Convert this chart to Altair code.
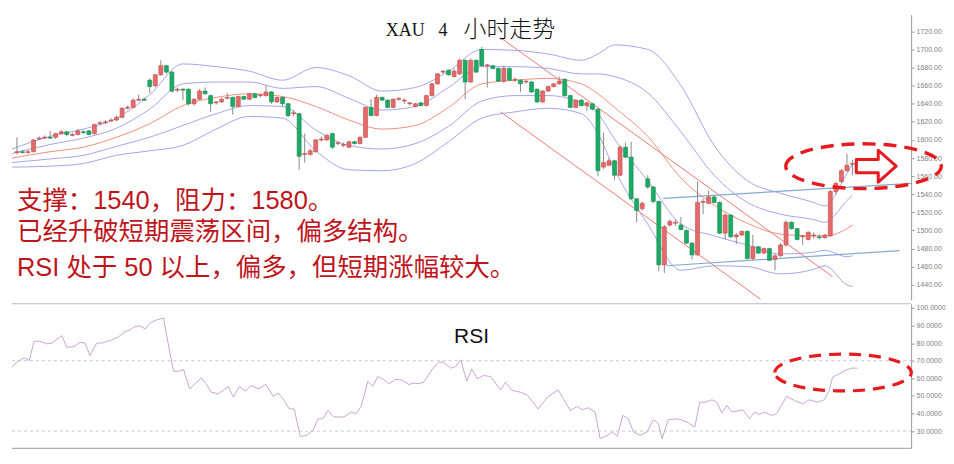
import altair as alt
import pandas as pd

# ---------------- data ----------------
opens = [1586,1587,1586,1587,1601,1602,1603,1603,1607,1609,
         1605,1606,1609,1610,1607,1618,1619,1621,1622,1625,
         1635,1636,1644,1645,1666,1660,1672,1682,1675,1655,
         1656,1656,1640,1645,1654,1649,1641,1642,1646,1647,
         1637,1648,1645,1651,1649,1649,1653,1642,1647,1640,
         1629,1629,1584,1584,1587,1600,1600,1607,1596,1594,
         1592,1598,1596,1603,1636,1627,1647,1644,1636,1645,
         1643,1640,1637,1641,1638,1649,1662,1675,1677,1670,
         1673,1688,1664,1688,1700,1682,1682,1679,1665,1679,
         1666,1666,1664,1664,1656,1642,1654,1659,1662,1667,
         1649,1636,1644,1638,1640,1634,1570,1572,1577,1561,
         1592,1581,1535,1524,1557,1548,1532,1462,1506,1508,
         1506,1500,1486,1473,1531,1530,1537,1531,1497,1517,
         1493,1495,1499,1469,1482,1475,1480,1468,1472,1484,
         1509,1502,1493,1490,1494,1493,1492,1494,1543,1554,
         1566,1573]
closes = [1587,1586,1587,1600,1602,1603,1602,1607,1609,1606,
          1606,1610,1608,1606,1617,1619,1620,1622,1625,1635,
          1636,1644,1645,1644,1659,1672,1682,1675,1654,1656,
          1655,1640,1645,1654,1651,1640,1642,1645,1647,1637,
          1648,1645,1651,1647,1650,1653,1642,1647,1640,1627,
          1630,1582,1585,1588,1600,1601,1605,1592,1597,1595,
          1598,1596,1603,1636,1627,1647,1644,1636,1645,1646,
          1644,1641,1640,1638,1649,1662,1673,1676,1672,1676,
          1688,1664,1688,1675,1682,1683,1679,1665,1679,1666,
          1667,1662,1665,1653,1642,1654,1659,1662,1665,1649,
          1636,1644,1638,1641,1634,1566,1575,1577,1561,1592,
          1581,1535,1522,1530,1548,1532,1462,1504,1510,1509,
          1501,1486,1473,1531,1532,1537,1531,1497,1517,1493,
          1495,1499,1469,1482,1475,1480,1467,1472,1484,1509,
          1502,1490,1494,1498,1495,1492,1495,1543,1552,1566,
          1572,1574]
highs = [1603,1589,1589,1601,1604,1605,1610,1608,1611,1610,
         1608,1612,1611,1611,1618,1621,1622,1624,1627,1636,
         1638,1646,1650,1647,1668,1673,1688,1683,1676,1658,
         1657,1657,1646,1656,1658,1650,1643,1647,1652,1648,
         1649,1649,1652,1652,1651,1660,1654,1648,1648,1641,
         1633,1630,1607,1590,1601,1604,1607,1608,1598,1597,
         1599,1599,1604,1637,1645,1650,1648,1645,1646,1647,
         1646,1642,1641,1642,1650,1663,1674,1677,1678,1679,
         1690,1689,1690,1689,1703,1684,1683,1680,1682,1680,
         1669,1667,1666,1665,1657,1655,1660,1663,1670,1668,
         1650,1645,1645,1642,1641,1635,1608,1580,1578,1594,
         1597,1598,1536,1532,1561,1549,1533,1506,1512,1512,
         1515,1501,1487,1554,1535,1544,1539,1532,1519,1518,
         1497,1500,1500,1495,1483,1481,1481,1474,1486,1511,
         1510,1503,1495,1499,1498,1496,1496,1545,1554,1568,
         1585,1578]
lows = [1584,1585,1585,1586,1600,1601,1601,1601,1606,1604,
        1604,1605,1607,1605,1606,1617,1618,1620,1621,1624,
        1634,1635,1643,1643,1652,1658,1671,1673,1652,1653,
        1644,1638,1638,1644,1650,1631,1639,1641,1645,1628,
        1636,1644,1644,1646,1647,1648,1640,1641,1637,1625,
        1626,1567,1575,1583,1586,1598,1599,1590,1594,1592,
        1591,1595,1595,1602,1626,1626,1643,1635,1635,1643,
        1640,1638,1636,1637,1637,1648,1661,1673,1671,1669,
        1672,1645,1663,1674,1681,1658,1678,1664,1663,1665,
        1664,1653,1662,1652,1641,1641,1653,1658,1661,1648,
        1635,1635,1637,1632,1633,1560,1568,1571,1556,1560,
        1580,1534,1509,1522,1546,1530,1455,1453,1504,1505,
        1500,1485,1468,1472,1518,1529,1530,1496,1490,1492,
        1485,1494,1468,1467,1474,1474,1466,1456,1471,1482,
        1501,1489,1484,1489,1491,1490,1491,1493,1540,1552,
        1565,1561]

# Bollinger-style bands, sampled along the candle index
bb_pos = [-0.9, 6, 12, 18, 24, 30, 36, 42, 48, 54, 60, 66, 72, 78, 84, 90, 96,
          102, 105, 108, 114, 120, 126, 132, 138, 144, 146, 150, 151]
bb_upper2 = [1590, 1604, 1612, 1624, 1650, 1684, 1681, 1676, 1666, 1680, 1671, 1654, 1658, 1676,
             1700, 1699, 1695, 1688, 1695, 1705, 1700, 1660, 1594, 1555, 1541, 1531, 1527, 1563, 1573]
bb_upper1 = [1585, 1595, 1602, 1613, 1634, 1662, 1664, 1664, 1657, 1659, 1646, 1633, 1637, 1658,
             1681, 1681, 1679, 1673, 1673, 1670, 1652, 1609, 1561, 1531, 1518, 1512, 1509, 1533, 1539]
bb_mid = [1580, 1587, 1592, 1603, 1618, 1638, 1647, 1651, 1648, 1637, 1622, 1612, 1616, 1636,
          1662, 1666, 1668, 1662, 1651, 1636, 1604, 1558, 1528, 1508, 1496, 1494, 1494, 1502, 1506]
bb_lower1 = [1575, 1579, 1583, 1593, 1603, 1616, 1629, 1638, 1637, 1611, 1594, 1590, 1596, 1615,
             1643, 1649, 1649, 1641, 1629, 1601, 1555, 1507, 1494, 1484, 1474, 1476, 1478, 1471, 1472]
bb_lower2 = [1570, 1571, 1574, 1583, 1588, 1594, 1612, 1626, 1624, 1588, 1567, 1566, 1574, 1598,
             1624, 1631, 1635, 1629, 1607, 1567, 1507, 1456, 1461, 1460, 1452, 1457, 1461, 1440, 1438]

# trend lines (candle index, price)
red_x0 = [87.4, 87.4]
red_y0 = [1713, 1631]
red_x1 = [147.4, 134.4]
red_y1 = [1449, 1424]
blue_x0 = [116.8, 117.4]
blue_y0 = [1535.4, 1461]
blue_x1 = [161.6, 159.5]
blue_y1 = [1552, 1477.7]

# RSI
rsi_pos = [-0.9, 0, 0.9, 1.4, 2.2, 3.1, 4.1, 5.4, 6.3, 8.1, 9, 10.3, 11.4, 12.3, 13.2, 14.4, 15.3,
           17.1, 18.4, 19.5, 20.4, 21.3, 22.2, 23.2, 24, 25.2, 26.5, 27, 28.3, 29.2, 30.1, 31.2,
           32.3, 33.3, 34.2, 35.1, 36.4, 38.2, 39.1, 40.2, 41.3, 42.3, 43.6, 45, 46.3, 47.2, 48.1,
           49.2, 50.1, 51.2, 52.3, 53.5, 54.4, 55.3, 56.2, 57.3, 59.1, 60.4, 61.3, 62.2, 63.4,
           64.3, 65.2, 66.1, 67.2, 68.5, 69.7, 70.8, 71.7, 72.6, 73.5, 75.1, 76.2, 77.1, 78.4,
           79.3, 80.2, 81.3, 82.2, 83.2, 84.3, 85.6, 87.4, 88.3, 89.5, 91, 92.3, 94.2, 95.9, 97.8,
           100, 101.3, 102.2, 103.2, 104.5, 105.4, 106.7, 107.6, 108.5, 109.5, 110.5, 111.4,
           112.6, 113.9, 115, 115.9, 116.6, 117.7, 119.5, 121.1, 122.5, 123.4, 124.3, 125.6,
           126.5, 127.4, 128.3, 129.2, 131.2, 132.4, 133.3, 134.2, 135.1, 136.4, 137.3, 139.1,
           140.5, 142, 143.2, 144.7, 145.9, 146.8, 147.4, 148.6, 149.9, 151, 151.9]
rsi_val = [66.3, 69.2, 71, 71.6, 70.1, 81.1, 81.1, 79.6, 80, 84.3, 77.7, 78, 80.5, 80, 73, 80, 80,
           81.8, 83.7, 86.5, 87.5, 89.4, 89.8, 88.1, 91.3, 93.2, 94.3, 85.2, 64, 64, 65, 54,
           57.2, 60.2, 56.9, 52.1, 51.2, 55.3, 49.3, 55.3, 52.7, 55.9, 54, 56.5, 49.7, 51.6, 48.3,
           42.6, 42.6, 26.9, 27.5, 30.4, 37, 37, 41.7, 38, 38, 40.8, 39.9, 44, 58.2,
           55.4, 61, 59.7, 56.9, 59.5, 58.8, 56.5, 57.3, 56.9, 57.8, 65.3, 69.2, 69.2, 65.8,
           66.7, 70.5, 58.4, 65.3, 59.7, 61.6, 61, 53.5, 57.8, 53.1, 52.1, 50.3, 42.6, 49.3, 53.5,
           41.7, 44, 42.1, 43.3, 40.8, 25.7, 27.6, 29.5, 27, 38.9, 37, 29.5,
           27.6, 29.5, 36.5, 34.5, 25.7, 36.5, 37, 35.1, 32.3, 46.4, 46.4, 47.8,
           46.4, 40.2, 44.6, 40.8, 42.1, 37, 40.8, 39.5, 40.8, 38.9, 39.9, 49.7,
           47.4, 45.5, 47.8, 46.4, 47.8, 53.1, 60.6, 62.5, 64.8, 65.8, 65.8]
rsi_levels = [70, 30]

price_ticks = list(range(1440, 1721, 20))
rsi_ticks = list(range(30, 101, 10))

# annotations
title_parts = ["XAU", "4", "小时走势"]
notes = ["支撑：1540，阻力：1580。",
         "已经升破短期震荡区间，偏多结构。",
         "RSI 处于 50 以上，偏多，但短期涨幅较大。"]
ellipse_main = {"i": [153.0], "p": [1571]}
arrow_main = {"i": [155.3], "p": [1571]}
ellipse_rsi = {"i": [149.3], "r": [63.3]}

# ---------------- layout / style ----------------
W = 902
H_MAIN = 286
H_RSI = 145
X_DOMAIN = [-0.9, 161.6]
P_DOMAIN = [1423.4, 1738.4]
R_DOMAIN = [20.2, 102.4]

RED_UP = "#e46a6b"
GREEN_DN = "#1cab65"
BAND_BLUE = "#a3a6ee"
BAND_RED = "#f0907f"
ANN_RED = "#e8191f"
TXT_RED = "#c0141c"

ELLIPSE_MAIN = ("M -1 0 C -1 -0.159 -0.552 -0.288 0 -0.288 C 0.552 -0.288 1 -0.159 1 0 "
                "C 1 0.159 0.552 0.288 0 0.288 C -0.552 0.288 -1 0.159 -1 0 Z")
ELLIPSE_RSI = ("M -1 0 C -1 -0.149 -0.552 -0.27 0 -0.27 C 0.552 -0.27 1 -0.149 1 0 "
               "C 1 0.149 0.552 0.27 0 0.27 C -0.552 0.27 -1 0.149 -1 0 Z")
ARROW = "M -1 -0.33 L 0.1 -0.33 L 0.1 -0.8 L 1 0 L 0.1 0.8 L 0.1 0.33 L -1 0.33 Z"

xs = alt.Scale(domain=X_DOMAIN, nice=False, zero=False, padding=0)
ps = alt.Scale(domain=P_DOMAIN, nice=False, zero=False, padding=0)
rs = alt.Scale(domain=R_DOMAIN, nice=False, zero=False, padding=0)

price_axis = alt.Axis(orient="right", values=price_ticks, format=".2f", labelFontSize=7,
                      labelColor="#808080", labelFont="Liberation Sans", tickColor="#999999",
                      tickSize=3, domainColor="#999999", labelPadding=2, grid=False, title=None)
rsi_axis = alt.Axis(orient="right", values=rsi_ticks, format=".4f", labelFontSize=7,
                    labelColor="#808080", labelFont="Liberation Sans", tickColor="#999999",
                    tickSize=3, domainColor="#999999", labelPadding=2, grid=False, title=None)


def X(f):
    return alt.X(f, type="quantitative", scale=xs, axis=None)


def PY(f):
    return alt.Y(f, type="quantitative", scale=ps, axis=price_axis)


def RY(f):
    return alt.Y(f, type="quantitative", scale=rs, axis=rsi_axis)


candles = pd.DataFrame({"i": list(range(len(opens))), "open": opens, "close": closes,
                        "high": highs, "low": lows})
candles["dir"] = ["up" if c >= o else "down" for o, c in zip(opens, closes)]

band_rows = []
for name, vals in [("u2", bb_upper2), ("u1", bb_upper1), ("l1", bb_lower1), ("l2", bb_lower2)]:
    for p, v in zip(bb_pos, vals):
        band_rows.append({"pos": p, "val": v, "line": name})
bands = pd.DataFrame(band_rows)
mid_df = pd.DataFrame({"pos": bb_pos, "val": bb_mid})

red_lines = pd.DataFrame({"x0": red_x0, "y0": red_y0, "x1": red_x1, "y1": red_y1})
blue_lines = pd.DataFrame({"x0": blue_x0, "y0": blue_y0, "x1": blue_x1, "y1": blue_y1})
rsi_df = pd.DataFrame({"pos": rsi_pos, "rsi": rsi_val})
lvl_df = pd.DataFrame({"lvl": rsi_levels})
one = pd.DataFrame({"a": [0]})

band_layer = alt.Chart(bands).mark_line(interpolate="monotone", strokeWidth=1,
                                        color=BAND_BLUE).encode(
    x=X("pos"), y=PY("val"), detail="line:N")
mid_layer = alt.Chart(mid_df).mark_line(interpolate="monotone", strokeWidth=1,
                                        color=BAND_RED).encode(x=X("pos"), y=PY("val"))

red_tl = alt.Chart(red_lines).mark_rule(color="#f07a74", strokeWidth=1).encode(
    x=X("x0"), y=PY("y0"), x2="x1", y2="y1")
blue_tl = alt.Chart(blue_lines).mark_rule(color="#86aacb", strokeWidth=1.2).encode(
    x=X("x0"), y=PY("y0"), x2="x1", y2="y1")

wicks = alt.Chart(candles).mark_rule(color="#8a8a8a", strokeWidth=1).encode(
    x=X("i"), y=PY("low"), y2="high")

bodies = alt.Chart(candles).mark_bar(size=4, strokeWidth=0.6).encode(
    x=X("i"), y=PY("open"), y2="close",
    fill=alt.Fill("dir:N", legend=None,
                  scale=alt.Scale(domain=["up", "down"], range=[RED_UP, GREEN_DN])),
    stroke=alt.Stroke("dir:N", legend=None,
                      scale=alt.Scale(domain=["up", "down"], range=["#c9484a", "#138a4f"])))

ell_main = alt.Chart(pd.DataFrame(ellipse_main)).mark_point(
    shape=ELLIPSE_MAIN, size=156 * 156, filled=False, stroke=ANN_RED, strokeWidth=3.4,
    strokeJoin="round", strokeDash=[13, 8], opacity=1).encode(x=X("i"), y=PY("p"))
arrow = alt.Chart(pd.DataFrame(arrow_main)).mark_point(
    shape=ARROW, size=40 * 40, filled=True, fill="white", stroke=ANN_RED, strokeWidth=3,
    strokeJoin="round", opacity=1, fillOpacity=1).encode(x=X("i"), y=PY("p"))

title_layers = []
for part, xp, fam, fs, yb in zip(title_parts, [375, 428, 453],
                                 ["Liberation Serif", "Liberation Serif", "Noto Sans CJK SC"],
                                 [18, 18, 23], [21, 21, 22]):
    title_layers.append(alt.Chart(pd.DataFrame({"t": [part]})).mark_text(
        align="left", baseline="alphabetic", font=fam, fontSize=fs, fontWeight=300,
        color="#111111").encode(x=alt.value(xp), y=alt.value(yb), text="t:N"))

note_layers = []
for note, yb in zip(notes, [195, 226, 262]):
    note_layers.append(alt.Chart(pd.DataFrame({"t": [note]})).mark_text(
        align="left", baseline="alphabetic", font="Liberation Sans, Noto Sans CJK SC",
        fontSize=25.5, color=TXT_RED).encode(x=alt.value(5), y=alt.value(yb), text="t:N"))

main = alt.layer(band_layer, mid_layer, red_tl, blue_tl, wicks, bodies, ell_main, arrow,
                 *title_layers, *note_layers).properties(width=W, height=H_MAIN)

frame_top = alt.Chart(one).mark_rule(color="#bbbbbb", strokeWidth=1.2).encode(
    x=alt.value(0), x2=alt.value(W), y=alt.value(0))
frame_bot = alt.Chart(one).mark_rule(color="#b0b0b0", strokeWidth=1.2).encode(
    x=alt.value(0), x2=alt.value(W), y=alt.value(H_RSI))
levels = alt.Chart(lvl_df).mark_rule(color="#c8c8c8", strokeWidth=1, strokeDash=[3, 3]).encode(
    y=RY("lvl"), x=alt.value(0), x2=alt.value(W))
rsi_line = alt.Chart(rsi_df).mark_line(color="#c9a6d3", strokeWidth=1).encode(
    x=X("pos"), y=RY("rsi"))
ell_rsi = alt.Chart(pd.DataFrame(ellipse_rsi)).mark_point(
    shape=ELLIPSE_RSI, size=137 * 137, filled=False, stroke=ANN_RED, strokeWidth=3.2,
    strokeJoin="round", strokeDash=[12, 8], opacity=1).encode(x=X("i"), y=RY("r"))
rsi_label = alt.Chart(pd.DataFrame({"t": ["RSI"]})).mark_text(
    align="center", baseline="alphabetic", font="Liberation Sans", fontSize=21,
    color="#111111").encode(x=alt.value(461), y=alt.value(39), text="t:N")

rsi_panel = alt.layer(levels, frame_top, frame_bot, rsi_line, ell_rsi, rsi_label).properties(
    width=W, height=H_RSI)

chart = alt.vconcat(main, rsi_panel, spacing=3).properties(
    padding={"left": 2, "top": 6, "right": 0, "bottom": 4}
).configure_view(stroke=None)

chart.save("out.html", embed_options={"renderer": "svg", "actions": False})
